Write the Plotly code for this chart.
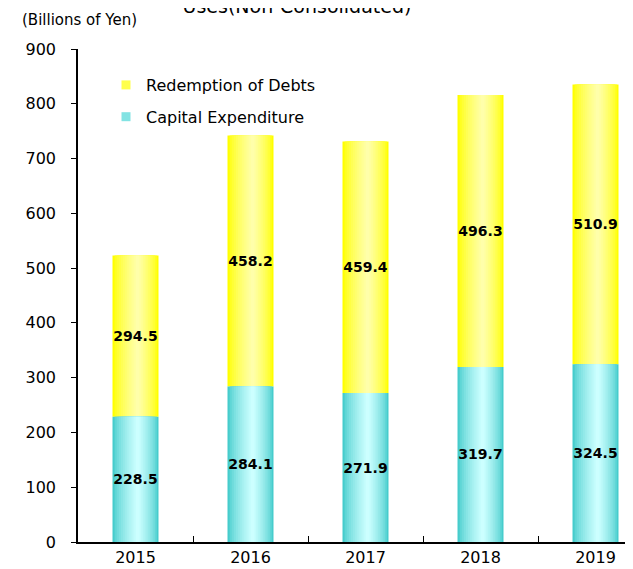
import plotly.graph_objects as go

years = ["2015", "2016", "2017", "2018", "2019"]
capex = [228.5, 284.1, 271.9, 319.7, 324.5]
debts = [294.5, 458.2, 459.4, 496.3, 510.9]
yticks = [0, 100, 200, 300, 400, 500, 600, 700, 800, 900]

FONT = "DejaVu Sans"
BAR_W = 0.4
N_LAYERS = 12
CENTER = 0.55

# page body has an 8px default margin, so the figure is sized to fit the window
W, H = 625, 561
ML, MT, MB = 70, 41, 27
PW, PH = W - ML, H - MT - MB


def lerp(c1, c2, t):
    return "rgb(%d,%d,%d)" % tuple(round(a + (b - a) * t) for a, b in zip(c1, c2))


series = [
    ("Redemption of Debts", debts, capex, (255, 255, 0), (255, 255, 170)),
    ("Capital Expenditure", capex, [0] * len(capex), (70, 204, 204), (204, 255, 255)),
]

fig = go.Figure()
for name, vals, base, edge, mid in series:
    for k in range(N_LAYERS):
        f = 1 - k / N_LAYERS
        t = (k / (N_LAYERS - 1)) ** 0.7
        left = CENTER - f * CENTER
        fig.add_trace(go.Bar(
            x=years, y=vals, base=base,
            width=BAR_W * f,
            offset=-BAR_W / 2 + BAR_W * left,
            marker=dict(color=lerp(edge, mid, t), line=dict(width=0)),
            name=name, legendgroup=name, showlegend=False,
            hoverinfo="skip",
        ))
    # legend-only entry with a small square swatch
    fig.add_trace(go.Scatter(
        x=[None], y=[None], mode="markers", name=name, legendgroup=name,
        marker=dict(symbol="square", size=9, color=lerp(edge, mid, 0.45), line=dict(width=0)),
        showlegend=True, hoverinfo="skip",
    ))

for name, vals, base, edge, mid in series:
    fig.add_trace(go.Bar(
        x=years, y=vals, base=base, width=BAR_W,
        marker=dict(color="rgba(0,0,0,0)", line=dict(width=0)),
        text=[f"{v:.1f}" for v in vals],
        textposition="inside", insidetextanchor="middle",
        constraintext="none", textangle=0,
        insidetextfont=dict(family=FONT, size=14, color="black", weight="bold"),
        showlegend=False, hoverinfo="skip",
    ))

fig.update_layout(
    width=W, height=H,
    barmode="overlay",
    plot_bgcolor="white", paper_bgcolor="white",
    margin=dict(l=ML, r=0, t=MT, b=MB, autoexpand=False),
    title=dict(text="Uses(Non-Consolidated)", font=dict(family=FONT, size=19, color="black"),
               x=289 / W, xref="container", xanchor="center",
               y=1 - 5 / H, yref="container", yanchor="bottom"),
    legend=dict(x=(98 - ML) / PW, y=1 - (60 - MT) / PH, xanchor="left", yanchor="top",
                traceorder="grouped", tracegroupgap=8,
                font=dict(family=FONT, size=16, color="black"),
                bgcolor="rgba(0,0,0,0)"),
    annotations=[dict(text="(Billions of Yen)", xref="paper", yref="paper",
                      x=(12 - ML) / PW, y=1 + (MT - 12) / PH, xanchor="left", yanchor="middle",
                      showarrow=False, font=dict(family=FONT, size=15, color="black"))],
)

fig.update_xaxes(
    type="category", categoryorder="array", categoryarray=years, range=[-0.5, 4.326],
    showline=True, linecolor="black", linewidth=2,
    ticks="inside", tickson="boundaries", ticklen=6, tickcolor="black", tickwidth=1,
    showgrid=False, zeroline=False,
    tickfont=dict(family=FONT, size=16, color="black"),
)
fig.update_yaxes(
    range=[0, 900], tickvals=yticks, ticktext=[str(v) for v in yticks],
    showline=True, linecolor="black", linewidth=1.5,
    ticks="outside", ticklen=5, tickcolor="black", tickwidth=1,
    ticklabelstandoff=12,
    showgrid=False, zeroline=False,
    tickfont=dict(family=FONT, size=16, color="black"),
)

fig.write_html("out.html")
